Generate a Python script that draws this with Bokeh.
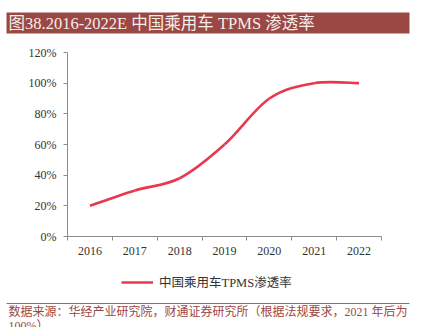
from bokeh.plotting import figure
from bokeh.layouts import column
from bokeh.models import FixedTicker, Legend, LegendItem
from bokeh.core.properties import value
from bokeh.embed import file_html
from bokeh.resources import INLINE

# ---- data ----
years = ["2016", "2017", "2018", "2019", "2020", "2021", "2022"]
rate = [20, 30, 38, 60, 90, 100, 100]
y_ticks = [0, 20, 40, 60, 80, 100, 120]
y_tick_labels = ["0%", "20%", "40%", "60%", "80%", "100%", "120%"]
series_name = "中国乘用车TPMS渗透率"
title_text = "图38.2016-2022E 中国乘用车 TPMS 渗透率"
source_line1 = "数据来源：华经产业研究院，财通证券研究所（根据法规要求，2021 年后为"
source_line2 = "100%）"

W, H = 421, 327
TOP_H = 40          # title strip height
BOT_Y = 265         # canvas y where the bottom strip starts
FL, FR, FT, FB = 67, 381, 52, 236  # chart frame edges in canvas px

LINE_COLOR = "#E8384F"
AXIS_COLOR = "#8C8C8C"
DARK_RED = "#9B4743"
SERIF = "'Liberation Serif', 'Noto Sans CJK SC'"


def strip(height, y0):
    f = figure(width=W, height=height, output_backend="svg", toolbar_location=None,
               x_range=(0, W), y_range=(y0 + height, y0), frame_align=False,
               min_border=0, min_border_left=0, min_border_right=0,
               min_border_top=0, min_border_bottom=0)
    f.axis.visible = False
    f.grid.visible = False
    f.outline_line_color = None
    f.border_fill_color = "white"
    f.background_fill_color = "white"
    return f


# ---- title strip ----
t = strip(TOP_H, 0)
t.quad(left=[6], right=[409], top=[12], bottom=[33], fill_color=DARK_RED,
       line_color=None)
t.text(x=[8], y=[22.5], text=[title_text], text_font=value(SERIF),
       text_font_size="16.5px", text_color="#F5EDEA",
       text_baseline="middle", text_align="left")

# ---- chart ----
n = len(years)
xs = list(range(n))
p = figure(width=W, height=BOT_Y - TOP_H, output_backend="svg", toolbar_location=None,
           x_range=(-0.5, n - 0.5), y_range=(0, 120), frame_align=False,
           min_border_left=FL, min_border_right=W - FR,
           min_border_top=FT - TOP_H, min_border_bottom=BOT_Y - FB)
p.outline_line_color = None
p.xgrid.visible = False
p.ygrid.visible = False
p.background_fill_color = "white"
p.border_fill_color = "white"

# smoothed line through the data (Catmull-Rom style bezier segments)
x0s, y0s, x1s, y1s, cx0, cy0, cx1, cy1 = [], [], [], [], [], [], [], []
for i in range(n - 1):
    xm, ym = xs[max(i - 1, 0)], rate[max(i - 1, 0)]
    xa, ya = xs[i], rate[i]
    xb, yb = xs[i + 1], rate[i + 1]
    xp, yp = xs[min(i + 2, n - 1)], rate[min(i + 2, n - 1)]
    x0s.append(xa); y0s.append(ya); x1s.append(xb); y1s.append(yb)
    cx0.append(xa + (xb - xm) / 6); cy0.append(ya + (yb - ym) / 6)
    cx1.append(xb - (xp - xa) / 6); cy1.append(yb - (yp - ya) / 6)

p.bezier(x0=x0s, y0=y0s, x1=x1s, y1=y1s, cx0=cx0, cy0=cy0, cx1=cx1, cy1=cy1,
         line_color=LINE_COLOR, line_width=2.6)

p.yaxis.ticker = FixedTicker(ticks=y_ticks)
p.yaxis.major_label_overrides = {t_: l for t_, l in zip(y_ticks, y_tick_labels)}
p.xaxis.ticker = FixedTicker(ticks=xs, minor_ticks=[i - 0.5 for i in range(n + 1)])
p.xaxis.major_label_overrides = {i: y for i, y in enumerate(years)}
for ax in (p.xaxis[0], p.yaxis[0]):
    ax.axis_line_color = AXIS_COLOR
    ax.major_tick_line_color = AXIS_COLOR
    ax.minor_tick_line_color = AXIS_COLOR
    ax.major_label_text_font = SERIF
    ax.major_label_text_font_size = "12px"
    ax.major_label_text_color = "#333333"
    ax.major_label_standoff = 7
p.yaxis.major_tick_in = 0
p.yaxis.major_tick_out = 4
p.yaxis.minor_tick_line_color = None
p.xaxis.major_tick_in = 0
p.xaxis.major_tick_out = 0
p.xaxis.minor_tick_in = 0
p.xaxis.minor_tick_out = 4
p.xaxis.major_label_standoff = 6

# ---- bottom strip: legend + source ----
b = strip(H - BOT_Y, BOT_Y)
nan = float("nan")
legend_r = b.line(x=[nan, nan], y=[nan, nan], line_color=LINE_COLOR, line_width=2.4)
legend = Legend(items=[LegendItem(label=series_name, renderers=[legend_r], index=0)],
                location=(125 - 4, (H - 291)),
                orientation="horizontal", margin=0,
                label_text_font=SERIF, label_text_font_size="12.5px",
                label_text_color="#333333",
                glyph_width=32, glyph_height=14, label_standoff=6,
                padding=4, border_line_color=None, background_fill_alpha=0)
b.add_layout(legend, "center")

b.segment(x0=[6], x1=[409], y0=[303], y1=[303], line_color=DARK_RED,
          line_width=1, line_alpha=0.85)
b.text(x=[8, 8], y=[311.5, 325.5], text=[source_line1, source_line2],
       text_font=value(SERIF), text_font_size="12px", text_color=DARK_RED,
       text_baseline="middle", text_align="left")

layout = column(t, p, b, spacing=0)
open("out.html", "w").write(file_html(layout, INLINE))
